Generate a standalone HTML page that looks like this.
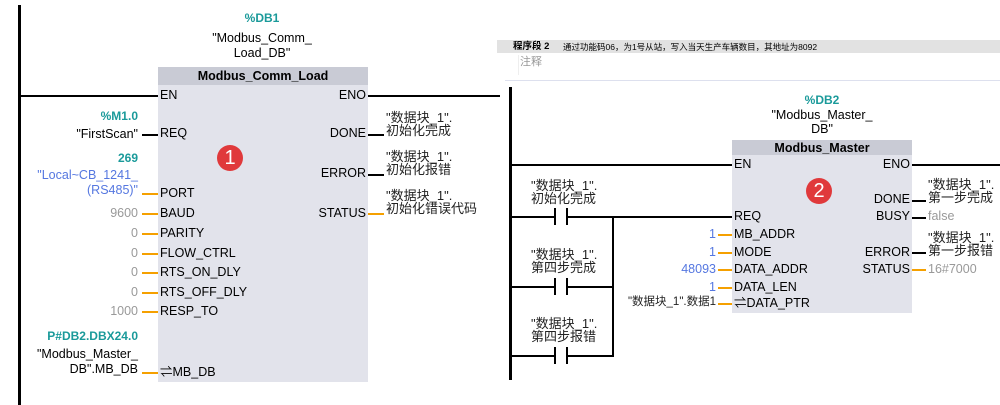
<!DOCTYPE html>
<html><head><meta charset="utf-8"><style>
body{margin:0;width:1000px;height:405px;background:#fff;position:relative;overflow:hidden;font-family:"Liberation Sans","Noto Sans CJK SC",sans-serif;}
.a{position:absolute;white-space:nowrap;line-height:1;}
.l{position:absolute;background:#000;}
.o{position:absolute;background:#f5a000;height:2px;}
.pin{position:absolute;font-size:12.5px;color:#000;}
.r{text-align:right;}
.c{text-align:center;}
.teal{color:#1a9a9a;font-weight:bold;font-size:12px;}
.blue{color:#5577e0;font-size:12.5px;}
.gray{color:#999;font-size:12.5px;}
.cn{font-size:13px;color:#222;line-height:13px;}
.circ{position:absolute;width:26px;height:26px;border-radius:13px;background:#e0393b;color:#fff;font-size:20px;text-align:center;line-height:26px;}
</style></head><body>
<div class="l" style="left:18px;top:5px;width:3px;height:400px"></div>
<div class="a teal" style="left:230px;top:12px;width:64px;text-align:center">%DB1</div>
<div class="a c" style="left:190px;top:31px;width:144px;font-size:12.5px;line-height:15px">"Modbus_Comm_<br>Load_DB"</div>
<div style="position:absolute;left:158px;top:67px;width:210px;height:315px;background:#e2e3eb"></div>
<div style="position:absolute;left:158px;top:67px;width:210px;height:18px;background:#c9cbd5"></div>
<div class="a c" style="left:158px;top:70px;width:210px;font-size:12.5px;font-weight:bold">Modbus_Comm_Load</div>
<div class="l" style="left:20px;top:95px;width:138px;height:2px"></div>
<div class="l" style="left:368px;top:95px;width:132px;height:2px"></div>
<div class="circ" style="left:217px;top:145px">1</div>
<div class="pin a" style="left:160px;top:89px">EN</div>
<div class="pin a r" style="left:300px;top:89px;width:66px">ENO</div>
<div class="pin a" style="left:160px;top:127px">REQ</div>
<div class="pin a" style="left:160px;top:187px">PORT</div>
<div class="pin a" style="left:160px;top:207px">BAUD</div>
<div class="pin a" style="left:160px;top:227px">PARITY</div>
<div class="pin a" style="left:160px;top:247px">FLOW_CTRL</div>
<div class="pin a" style="left:160px;top:266px">RTS_ON_DLY</div>
<div class="pin a" style="left:160px;top:286px">RTS_OFF_DLY</div>
<div class="pin a" style="left:160px;top:305px">RESP_TO</div>
<div class="pin a" style="left:160px;top:366px">⇌MB_DB</div>
<div class="pin a r" style="left:290px;top:127px;width:76px">DONE</div>
<div class="pin a r" style="left:290px;top:167px;width:76px">ERROR</div>
<div class="pin a r" style="left:290px;top:207px;width:76px">STATUS</div>
<div class="l" style="left:142px;top:134px;width:16px;height:2px"></div>
<div class="o" style="left:142px;top:193px;width:16px"></div>
<div class="o" style="left:142px;top:213px;width:16px"></div>
<div class="o" style="left:142px;top:233px;width:16px"></div>
<div class="o" style="left:142px;top:253px;width:16px"></div>
<div class="o" style="left:142px;top:272px;width:16px"></div>
<div class="o" style="left:142px;top:292px;width:16px"></div>
<div class="o" style="left:142px;top:311px;width:16px"></div>
<div class="o" style="left:142px;top:372px;width:16px"></div>
<div class="l" style="left:368px;top:134px;width:16px;height:2px"></div>
<div class="l" style="left:368px;top:174px;width:16px;height:2px"></div>
<div class="o" style="left:368px;top:213px;width:16px"></div>
<div class="a teal r" style="left:60px;top:110px;width:78px">%M1.0</div>
<div class="a r" style="left:40px;top:128px;width:98px;font-size:12.5px">"FirstScan"</div>
<div class="a teal r" style="left:60px;top:152px;width:78px">269</div>
<div class="a blue r" style="left:20px;top:168px;width:118px;line-height:15px">"Local~CB_1241_<br>(RS485)"</div>
<div class="a gray r" style="left:60px;top:207px;width:78px">9600</div>
<div class="a gray r" style="left:60px;top:227px;width:78px">0</div>
<div class="a gray r" style="left:60px;top:247px;width:78px">0</div>
<div class="a gray r" style="left:60px;top:266px;width:78px">0</div>
<div class="a gray r" style="left:60px;top:286px;width:78px">0</div>
<div class="a gray r" style="left:60px;top:305px;width:78px">1000</div>
<div class="a teal r" style="left:20px;top:330px;width:118px">P#DB2.DBX24.0</div>
<div class="a r" style="left:20px;top:347px;width:118px;font-size:12.5px;line-height:15px">"Modbus_Master_<br>DB".MB_DB</div>
<div class="a cn" style="left:386px;top:111px">"数据块_1".<br>初始化完成</div>
<div class="a cn" style="left:386px;top:150px">"数据块_1".<br>初始化报错</div>
<div class="a cn" style="left:386px;top:189px">"数据块_1".<br>初始化错误代码</div>
<div style="position:absolute;left:497px;top:40px;width:503px;height:13px;background:#e2e2e2"></div>
<div class="a" style="left:513px;top:42px;font-size:9.5px;font-weight:bold">程序段 2</div>
<div class="a" style="left:563px;top:43px;font-size:8.5px">通过功能码06，为1号从站，写入当天生产车辆数目，其地址为8092</div>
<div class="a" style="left:520px;top:57px;font-size:11px;color:#999">注释</div>
<div style="position:absolute;left:518px;top:55px;width:1px;height:20px;background:#eee"></div>
<div style="position:absolute;left:505px;top:80px;width:495px;height:1px;background:#dde0ee"></div>
<div class="l" style="left:509px;top:87px;width:3px;height:293px"></div>
<div class="a teal" style="left:790px;top:94px;width:64px;text-align:center">%DB2</div>
<div class="a c" style="left:750px;top:108px;width:144px;font-size:12.5px;line-height:14px">"Modbus_Master_<br>DB"</div>
<div style="position:absolute;left:732px;top:140px;width:180px;height:173px;background:#e2e3eb"></div>
<div style="position:absolute;left:732px;top:140px;width:180px;height:15px;background:#c9cbd5"></div>
<div class="a c" style="left:732px;top:142px;width:180px;font-size:12.5px;font-weight:bold">Modbus_Master</div>
<div class="circ" style="left:806px;top:178px">2</div>
<div class="l" style="left:511px;top:164px;width:221px;height:2px"></div>
<div class="l" style="left:912px;top:164px;width:88px;height:2px"></div>
<div class="pin a" style="left:734px;top:158px">EN</div>
<div class="pin a r" style="left:840px;top:158px;width:70px">ENO</div>
<div class="pin a" style="left:734px;top:210px">REQ</div>
<div class="pin a" style="left:734px;top:228px">MB_ADDR</div>
<div class="pin a" style="left:734px;top:246px">MODE</div>
<div class="pin a" style="left:734px;top:263px">DATA_ADDR</div>
<div class="pin a" style="left:734px;top:281px">DATA_LEN</div>
<div class="pin a" style="left:734px;top:297px">⇌DATA_PTR</div>
<div class="pin a r" style="left:840px;top:193px;width:70px">DONE</div>
<div class="pin a r" style="left:840px;top:210px;width:70px">BUSY</div>
<div class="pin a r" style="left:840px;top:246px;width:70px">ERROR</div>
<div class="pin a r" style="left:840px;top:263px;width:70px">STATUS</div>
<div class="l" style="left:912px;top:200px;width:14px;height:2px"></div>
<div class="l" style="left:912px;top:217px;width:14px;height:2px"></div>
<div class="l" style="left:912px;top:252px;width:14px;height:2px"></div>
<div class="o" style="left:912px;top:269px;width:14px"></div>
<div class="a cn" style="left:928px;top:178px">"数据块_1".<br>第一步完成</div>
<div class="a gray" style="left:928px;top:210px">false</div>
<div class="a cn" style="left:928px;top:231px">"数据块_1".<br>第一步报错</div>
<div class="a gray" style="left:928px;top:263px">16#7000</div>
<div class="o" style="left:718px;top:234px;width:14px"></div>
<div class="o" style="left:718px;top:252px;width:14px"></div>
<div class="o" style="left:718px;top:269px;width:14px"></div>
<div class="o" style="left:718px;top:287px;width:14px"></div>
<div class="o" style="left:718px;top:303px;width:14px"></div>
<div class="a blue r" style="left:660px;top:228px;width:56px">1</div>
<div class="a blue r" style="left:660px;top:246px;width:56px">1</div>
<div class="a blue r" style="left:660px;top:263px;width:56px">48093</div>
<div class="a blue r" style="left:660px;top:281px;width:56px">1</div>
<div class="a r" style="left:590px;top:297px;width:126px;font-size:11.5px;color:#222">"数据块_1".数据1</div>
<div class="l" style="left:511px;top:216px;width:221px;height:2px"></div>
<div class="l" style="left:511px;top:286px;width:103px;height:2px"></div>
<div class="l" style="left:511px;top:355px;width:103px;height:2px"></div>
<div class="l" style="left:612px;top:216px;width:2px;height:141px"></div>
<div style="position:absolute;left:554px;top:208px;width:14px;height:17px;background:#fff;border-left:2px solid #000;border-right:2px solid #000;box-sizing:border-box"></div>
<div style="position:absolute;left:554px;top:278px;width:14px;height:17px;background:#fff;border-left:2px solid #000;border-right:2px solid #000;box-sizing:border-box"></div>
<div style="position:absolute;left:554px;top:347px;width:14px;height:17px;background:#fff;border-left:2px solid #000;border-right:2px solid #000;box-sizing:border-box"></div>
<div class="a cn" style="left:531px;top:179px">"数据块_1".<br>初始化完成</div>
<div class="a cn" style="left:531px;top:248px">"数据块_1".<br>第四步完成</div>
<div class="a cn" style="left:531px;top:317px">"数据块_1".<br>第四步报错</div>
</body></html>
